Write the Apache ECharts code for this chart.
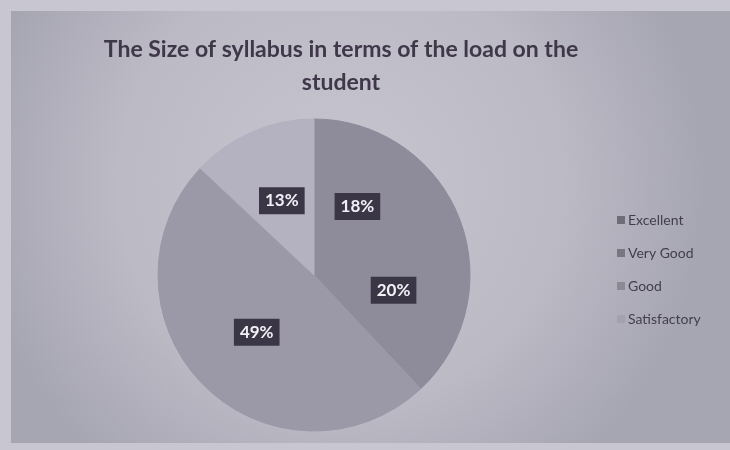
<!DOCTYPE html>
<html>
<head>
<meta charset="utf-8">
<script src="https://cdn.jsdelivr.net/npm/echarts@6/dist/echarts.min.js"></script>
<style>
  html, body { margin: 0; padding: 0; background: #c8c6d1; }
  #chart { width: 730px; height: 450px; }
</style>
</head>
<body>
<div id="chart"></div>
<script>
// data
var categories = ['Excellent', 'Very Good', 'Good', 'Satisfactory'];
var shares = [18, 20, 49, 13];
var colors = ['#8e8c9b', '#8e8c9b', '#9b99a8', '#b4b2c0'];
var legendColors = ['#6f6d78', '#787681', '#8c8a95', '#a3a1ac'];

var chart = echarts.init(document.getElementById('chart'));

var pieData = categories.map(function (name, i) {
    return {
        name: name,
        value: shares[i],
        itemStyle: { color: colors[i], borderColor: colors[i] }
    };
});

var option = {
    backgroundColor: '#c8c6d1',
    graphic: [{
        type: 'rect',
        z: -10,
        shape: { x: 11, y: 11, width: 730, height: 432 },
        style: {
            fill: {
                type: 'radial', x: 0.45, y: 0.4, r: 0.85,
                colorStops: [
                    { offset: 0, color: '#c6c5cf' },
                    { offset: 0.6, color: '#bbbac5' },
                    { offset: 1, color: '#a6a5b2' }
                ]
            }
        }
    }],
    title: {
        text: 'The Size of syllabus in terms of the load on the\nstudent',
        left: 336,
        top: 28,
        textAlign: 'center',
        textStyle: {
            fontFamily: 'Lato',
            fontWeight: 'bold',
            fontSize: 23,
            lineHeight: 33,
            color: '#3e3848'
        }
    },
    legend: {
        orient: 'vertical',
        left: 612,
        top: 208,
        itemGap: 19,
        itemWidth: 8,
        itemHeight: 8,
        icon: 'rect',
        data: categories.map(function (name, i) {
            return {
                name: name,
                itemStyle: { color: legendColors[i], borderWidth: 0 }
            };
        }),
        textStyle: {
            fontFamily: 'Lato',
            fontSize: 14,
            color: '#433e4e',
            padding: [0, 0, 0, -2]
        }
    },
    series: [{
        type: 'pie',
        center: [314, 275],
        radius: 156,
        startAngle: 90,
        clockwise: true,
        silent: true,
        data: pieData,
        itemStyle: { borderWidth: 1 },
        label: {
            show: true,
            position: 'inside',
            formatter: '{c}%',
            fontFamily: 'Lato',
            fontWeight: 'bold',
            fontSize: 17,
            color: '#f2f0f6',
            backgroundColor: '#3b3646',
            padding: [5, 6, 5, 6]
        },
        labelLine: { show: false }
    }]
};

chart.setOption(option);
</script>
</body>
</html>
